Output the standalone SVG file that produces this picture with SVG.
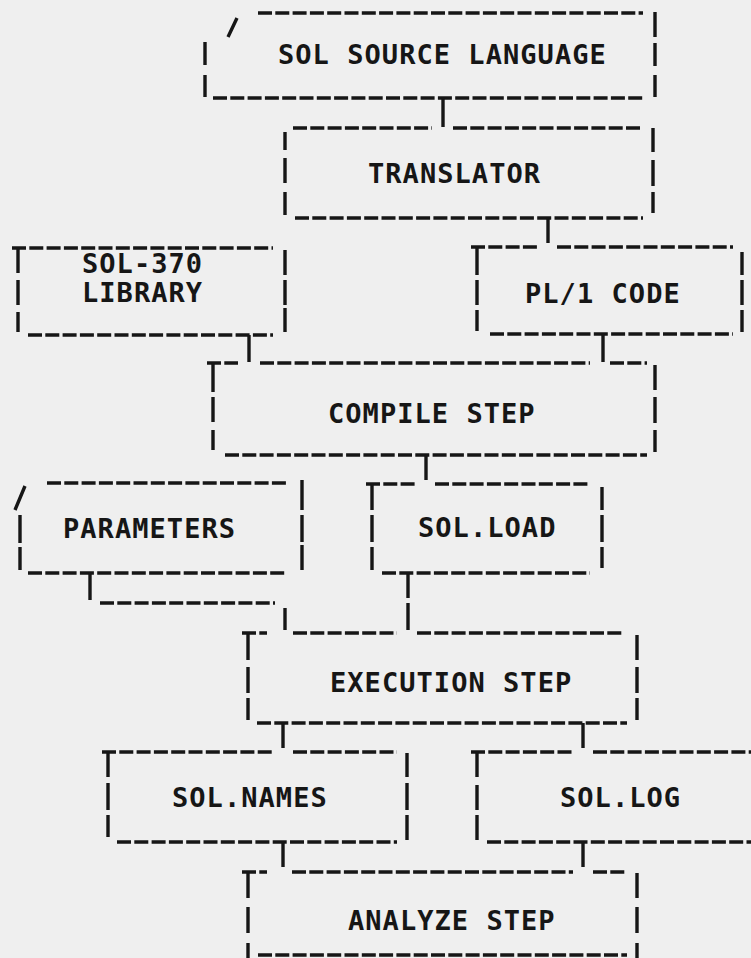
<svg xmlns="http://www.w3.org/2000/svg" width="751" height="958" viewBox="0 0 751 958">
<style>
.ln{stroke:#161616;stroke-width:3.4;fill:none;stroke-linecap:butt}
.h{stroke-dasharray:14 3.3}
.t{font-family:"DejaVu Sans Mono","Liberation Mono",monospace;font-weight:bold;font-size:27px;letter-spacing:1.05px;fill:#161616}
</style>
<rect x="0" y="0" width="751" height="958" fill="#efefef"/>
<g id="node-sol-source">
<path class="ln h" d="M258 13H643M213 98H643"/>
<path class="ln" d="M205 42V65M205 75V97M655 12V37M655 43V66M655 75V97M228 37L237 18"/>
<text class="t" x="278" y="64">SOL SOURCE LANGUAGE</text>
</g>
<g id="node-translator">
<path class="ln h" d="M293 128H432M453 128H643M295 218H643"/>
<path class="ln" d="M285 132V150M285 158V183M285 192V215M653 128V152M653 160V186M653 192V213"/>
<text class="t" x="368" y="183">TRANSLATOR</text>
</g>
<g id="node-library">
<path class="ln h" d="M12 248H273M28 335H273"/>
<path class="ln" d="M18 248V273M18 280V305M18 312V332M285 250V275M285 280V305M285 308V332"/>
<text class="t" x="82" y="273">SOL-370</text>
<text class="t" x="82" y="302">LIBRARY</text>
</g>
<g id="node-pl1">
<path class="ln h" d="M471 247H537M557 247H733M490 334H733"/>
<path class="ln" d="M477 247V275M477 280V305M477 310V331M742 252V275M742 280V305M742 310V332"/>
<text class="t" x="525" y="303">PL/1 CODE</text>
</g>
<g id="node-compile">
<path class="ln h" d="M207 363H238M260 363H590M610 363H647M225 455H647"/>
<path class="ln" d="M213 363V392M213 397V422M213 430V450M655 365V390M655 397V423M655 430V452"/>
<text class="t" x="328" y="423">COMPILE STEP</text>
</g>
<g id="node-parameters">
<path class="ln h" d="M47 483H287M28 573H287"/>
<path class="ln" d="M20 515V543M20 547V570M302 480V510M302 515V542M302 545V570M15 510L25 486"/>
<text class="t" x="63" y="538">PARAMETERS</text>
</g>
<g id="node-sol-load">
<path class="ln h" d="M366 484H415M435 484H590M382 573H590"/>
<path class="ln" d="M372 484V510M372 515V542M372 547V570M602 487V510M602 515V542M602 547V568"/>
<text class="t" x="418" y="537">SOL.LOAD</text>
</g>
<g id="node-execution">
<path class="ln h" d="M242 633H267M293 633H397M417 633H623M257 723H627"/>
<path class="ln" d="M248 633V660M248 667V693M248 698V720M637 635V660M637 667V693M637 698V720"/>
<text class="t" x="330" y="692">EXECUTION STEP</text>
</g>
<g id="node-sol-names">
<path class="ln h" d="M102 752H273M293 752H397M117 842H397"/>
<path class="ln" d="M108 752V777M108 783V810M108 815V837M407 753V777M407 783V810M407 815V840"/>
<text class="t" x="172" y="807">SOL.NAMES</text>
</g>
<g id="node-sol-log">
<path class="ln h" d="M471 752H572M593 752H751M487 842H751"/>
<path class="ln" d="M477 752V777M477 785V810M477 815V840"/>
<text class="t" x="560" y="807">SOL.LOG</text>
</g>
<g id="node-analyze">
<path class="ln h" d="M242 872H267M292 872H573M593 872H627M258 955H627"/>
<path class="ln" d="M248 872V898M248 907V933M248 943V958M637 873V898M637 907V933M637 943V958"/>
<text class="t" x="348" y="930">ANALYZE STEP</text>
</g>
<g id="connectors">
<path class="ln" d="M443 98V127"/>
<path class="ln" d="M548 218V243"/>
<path class="ln" d="M249 335V362"/>
<path class="ln" d="M603 334V362"/>
<path class="ln" d="M426 455V480"/>
<path class="ln" d="M90 573V600"/>
<path class="ln h" d="M100 603H275"/>
<path class="ln" d="M285 608V630"/>
<path class="ln" d="M408 573V598M408 603V630"/>
<path class="ln" d="M283 723V748"/>
<path class="ln" d="M583 723V748"/>
<path class="ln" d="M283 842V867"/>
<path class="ln" d="M583 842V867"/>
</g>
</svg>
